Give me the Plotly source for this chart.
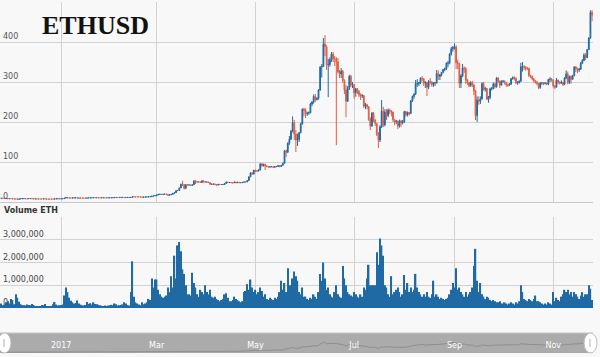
import pandas as pd
import plotly.graph_objects as go

# ---------------- data (daily, 2016-11-25 .. 2017-11-25) ----------------
START_DATE = "2016-11-25"
FIRST_OPEN = 9.3

close = [
    9.4, 9.2, 8.9, 8.6, 8.2, 8.6,  # Nov 2016
    8.5, 7.7, 7.7, 7.6, 6.8, 7.6, 8.4, 8.4, 8.5, 8.2, 8.1, 8.6, 8.6, 8.2, 7.8, 7.9, 7.6, 7.6, 7.6, 7.6, 7.9, 7.6, 7.2, 7.2, 7.2, 7.2, 7.2, 7.8, 8.2, 8.3, 8.0,  # Dec
    8.2, 8.4, 9.7, 11.1, 10.2, 10.1, 9.9, 10.3, 10.3, 10.5, 9.8, 9.9, 9.8, 9.8, 9.8, 9.6, 10.2, 10.4, 10.6, 10.6, 11.0, 10.7, 10.8, 10.5, 10.5, 10.6, 10.6, 10.5, 10.5, 10.6, 10.7,  # Jan
    10.8, 10.8, 11.3, 11.3, 11.2, 11.3, 11.4, 11.5, 11.0, 11.4, 11.4, 11.4, 11.4, 13.0, 12.9, 12.9, 12.8, 12.8, 12.7, 12.0, 12.4, 12.6, 12.8, 13.1, 13.1, 14.8, 15.5, 15.7,  # Feb
    17.5, 19.1, 19.3, 18.7, 19.5, 19.8, 19.4, 16.9, 17.9, 19.2, 21.5, 23.4, 28.6, 28.7, 35.2, 44.6, 44.1, 34.0, 43.3, 42.6, 42.7, 41.6, 43.0, 53.0, 50.5, 50.4, 50.4, 48.8, 53.0, 51.0, 49.8,  # Mar
    50.0, 48.6, 44.2, 44.6, 45.2, 43.3, 42.3, 44.2, 43.6, 43.7, 43.7, 46.4, 50.0, 48.6, 48.8, 48.0, 47.9, 50.0, 48.0, 49.4, 48.2, 48.4, 49.0, 50.3, 50.0, 53.8, 63.0, 72.9, 69.7, 79.8,  # Apr
    77.5, 77.5, 80.3, 95.0, 90.7, 94.6, 90.6, 88.4, 87.4, 88.0, 88.5, 86.7, 88.2, 88.9, 91.1, 88.5, 92.0, 97.0, 128.0, 124.3, 147.0, 157.0, 177.0, 198.0, 170.0, 155.0, 156.0, 173.0, 195.0, 232.0, 229.0,  # May
    221, 222, 223, 245, 250, 264, 256, 259, 280, 337, 339, 395, 388, 343, 344, 356, 370, 358, 358, 350, 325, 320, 327, 304, 280, 252, 283, 314, 292, 293,  # Jun
    273, 283, 276, 268, 265, 266, 240, 243, 238, 206, 190, 222, 205, 196, 169, 155, 188, 227, 193, 225, 216, 230, 227, 225, 206, 201, 202, 190, 203, 198, 201,  # Jul
    226, 218, 224, 221, 253, 264, 269, 296, 296, 298, 309, 308, 297, 299, 287, 301, 300, 294, 298, 298, 321, 314, 318, 324, 331, 333, 347, 347, 370, 383, 387,  # Aug
    388, 348, 347, 297, 315, 335, 333, 305, 298, 291, 298, 292, 277, 216, 255, 252, 258, 296, 282, 284, 257, 262, 283, 283, 295, 288, 310, 302, 292, 302,  # Sep
    302, 298, 292, 292, 295, 308, 311, 309, 298, 299, 302, 338, 339, 336, 334, 334, 316, 314, 308, 303, 300, 296, 286, 297, 297, 296, 297, 295, 306, 307, 305,  # Oct
    290, 287, 305, 300, 297, 299, 294, 310, 320, 299, 314, 307, 316, 337, 333, 330, 332, 347, 354, 367, 361, 381, 410, 474, 467,  # Nov
]

high = [
    9.6, 9.5, 9.3, 9.0, 8.7, 8.8,
    8.8, 8.6, 7.9, 7.8, 7.7, 7.8, 8.6, 8.7, 8.7, 8.6, 8.3, 8.8, 8.9, 8.7, 8.3, 8.0, 8.0, 7.7, 7.7, 7.8, 8.0, 8.0, 7.7, 7.3, 7.3, 7.4, 7.3, 7.9, 8.4, 8.5, 8.4,
    8.4, 8.5, 9.8, 11.3, 11.2, 10.6, 10.3, 10.6, 10.6, 10.7, 10.6, 10.2, 10.0, 9.9, 9.9, 9.9, 10.3, 10.5, 10.8, 10.7, 11.1, 11.1, 11.0, 10.9, 10.6, 10.7, 10.7, 10.7, 10.6, 10.7, 10.8,
    10.9, 10.9, 11.4, 11.6, 11.4, 11.4, 11.5, 11.7, 11.6, 11.5, 11.6, 11.5, 11.6, 13.2, 13.2, 13.0, 13.0, 12.9, 12.9, 12.8, 12.5, 12.7, 12.9, 13.3, 13.3, 15.0, 15.9, 16.0,
    17.8, 19.3, 20.4, 19.4, 19.6, 20.1, 19.9, 19.5, 18.0, 19.5, 21.8, 24.0, 28.8, 29.5, 35.8, 45.5, 53.0, 44.2, 44.0, 43.5, 43.8, 42.8, 43.5, 53.5, 55.0, 51.5, 51.0, 50.5, 53.5, 53.2, 51.0,
    51.0, 50.5, 48.8, 45.6, 45.5, 45.5, 43.5, 44.5, 44.3, 44.0, 44.0, 46.5, 50.5, 50.5, 49.2, 49.0, 48.2, 50.3, 50.5, 49.6, 49.6, 48.8, 49.2, 50.5, 50.6, 54.0, 64.0, 73.5, 74.0, 80.0,
    80.5, 79.5, 81.0, 97.0, 97.5, 95.5, 95.0, 91.0, 88.5, 89.5, 89.5, 88.5, 88.8, 89.5, 91.5, 91.5, 92.5, 98.0, 130.0, 131.0, 149.0, 165.0, 180.0, 214.0, 205.0, 180.0, 171.0, 175.0, 198.0, 234.0, 236.0,
    234, 226, 226, 248, 252, 269, 270, 262, 282, 340, 345, 410, 417, 392, 358, 362, 375, 375, 365, 362, 360, 330, 335, 330, 307, 292, 290, 318, 318, 300,
    295, 285, 285, 280, 272, 270, 267, 248, 245, 240, 212, 225, 225, 207, 198, 175, 192, 255, 238, 232, 232, 234, 233, 230, 226, 208, 205, 204, 206, 204, 205,
    228, 227, 226, 225, 255, 266, 272, 305, 307, 300, 312, 315, 310, 302, 300, 305, 310, 302, 300, 300, 330, 329, 320, 325, 333, 336, 349, 353, 372, 388, 390,
    397, 392, 356, 348, 320, 345, 339, 337, 308, 300, 302, 303, 296, 280, 264, 264, 264, 299, 300, 288, 285, 265, 286, 288, 299, 298, 312, 312, 304, 304,
    305, 304, 300, 296, 297, 310, 314, 314, 312, 302, 304, 348, 350, 342, 340, 338, 336, 318, 316, 310, 305, 302, 298, 300, 300, 300, 300, 299, 308, 312, 310,
    307, 292, 310, 306, 302, 304, 300, 312, 329, 326, 316, 316, 318, 340, 340, 336, 335, 350, 357, 372, 372, 382, 412, 479, 480,
]

low = [
    9.1, 9.0, 8.6, 8.2, 7.9, 8.1,
    8.3, 7.5, 7.4, 7.4, 6.4, 6.7, 7.5, 8.1, 8.2, 8.1, 7.9, 8.0, 8.4, 8.1, 7.6, 7.6, 7.5, 7.5, 7.5, 7.5, 7.5, 7.5, 7.0, 7.0, 7.1, 7.1, 7.1, 7.1, 7.7, 8.0, 7.9,
    7.9, 8.1, 8.3, 9.6, 9.6, 9.8, 9.6, 9.8, 10.1, 10.2, 9.6, 9.6, 9.6, 9.6, 9.6, 9.5, 9.6, 10.1, 10.3, 10.4, 10.5, 10.6, 10.6, 10.4, 10.4, 10.4, 10.5, 10.4, 10.4, 10.4, 10.5,
    10.6, 10.6, 10.7, 11.1, 11.0, 11.1, 11.2, 11.3, 10.7, 10.9, 11.3, 11.2, 11.2, 11.3, 12.6, 12.7, 12.6, 12.6, 12.5, 11.8, 11.9, 12.3, 12.5, 12.7, 12.9, 13.0, 14.5, 15.2,
    15.6, 17.4, 18.7, 18.3, 18.6, 19.3, 18.8, 16.6, 16.3, 17.8, 19.1, 21.3, 23.3, 27.8, 28.5, 35.0, 40.0, 31.0, 33.5, 41.0, 41.5, 40.0, 41.3, 43.0, 45.0, 48.0, 48.5, 47.5, 48.6, 48.5, 49.0,
    49.2, 47.5, 43.5, 43.5, 44.2, 42.5, 41.5, 42.0, 43.2, 43.3, 43.2, 43.5, 46.2, 47.5, 48.0, 47.5, 47.2, 47.7, 47.8, 47.8, 48.0, 47.8, 48.2, 48.8, 49.5, 49.8, 53.5, 62.5, 68.0, 69.5,
    75.0, 75.0, 76.5, 79.5, 88.0, 89.0, 80.0, 87.0, 86.0, 86.5, 87.5, 86.0, 86.3, 87.5, 88.0, 87.0, 88.0, 91.5, 96.5, 112.0, 123.0, 143.0, 155.0, 174.0, 155.0, 125.0, 140.0, 150.0, 172.0, 194.0, 214.0,
    210, 215, 218, 222, 240, 246, 250, 254, 256, 278, 311, 338, 365, 330, 262, 338, 350, 350, 340, 142, 322, 310, 310, 298, 270, 212, 250, 280, 287, 285,
    258, 263, 270, 262, 255, 260, 235, 232, 232, 203, 180, 188, 200, 190, 165, 135, 150, 185, 187, 189, 205, 212, 220, 214, 200, 192, 195, 182, 186, 188, 194,
    198, 213, 214, 216, 221, 250, 258, 268, 288, 290, 295, 302, 290, 285, 265, 282, 294, 288, 288, 290, 296, 305, 305, 314, 322, 327, 330, 337, 344, 366, 376,
    381, 332, 332, 285, 285, 312, 323, 295, 293, 287, 288, 287, 267, 205, 200, 243, 245, 256, 278, 276, 255, 248, 257, 279, 282, 284, 286, 297, 285, 292,
    298, 294, 288, 288, 290, 293, 306, 304, 295, 293, 296, 300, 326, 330, 328, 330, 312, 310, 304, 298, 296, 292, 282, 283, 293, 292, 294, 292, 292, 300, 301,
    286, 282, 286, 295, 294, 295, 290, 292, 307, 294, 295, 296, 305, 314, 325, 322, 325, 330, 345, 352, 355, 360, 380, 408, 452,
]

# volume in thousands of ETH
volume_k = [
    200, 120, 150, 250, 300, 200,
    400, 350, 160, 600, 450, 280, 170, 130, 120, 110, 150, 130, 120, 180, 130, 90, 80, 70, 90, 130, 120, 180, 90, 70, 80, 90, 170, 260, 150, 110, 120,
    130, 150, 550, 900, 700, 450, 320, 250, 200, 220, 330, 200, 150, 120, 110, 130, 260, 180, 210, 150, 250, 180, 170, 140, 120, 100, 90, 110, 80, 110, 120,
    140, 120, 200, 160, 110, 120, 130, 160, 250, 200, 130, 110, 700, 2050, 500, 250, 200, 150, 120, 250, 170, 200, 250, 400, 350, 1300, 900, 1250,
    1250, 800, 600, 500, 450, 500, 550, 900, 700, 1400, 900, 2300, 1300, 2750, 2900, 2500, 1700, 1500, 1000, 600, 600, 550, 1550, 1100, 900, 600, 500, 800, 700, 600, 1000,
    700, 600, 800, 500, 450, 500, 400, 350, 300, 350, 400, 600, 650, 450, 300, 300, 350, 500, 400, 350, 300, 250, 300, 700, 750, 1050, 800, 1250, 900, 700,
    800, 600, 700, 900, 750, 500, 600, 400, 350, 450, 400, 350, 450, 400, 500, 700, 1200, 800, 1100, 700, 1750, 1000, 1000, 1300, 1600, 1400, 1200, 700, 600, 900, 500,
    500, 400, 350, 450, 400, 600, 500, 400, 700, 1500, 1200, 2000, 1300, 800, 900, 600, 500, 450, 700, 1000, 600, 500, 450, 1850, 1300, 1000, 700, 600, 550, 500,
    700, 600, 500, 450, 600, 500, 900, 800, 1300, 1900, 1000, 1000, 1000, 1000, 2450, 1900, 3050, 2750, 2300, 1000, 900, 600, 500, 1400, 600, 700, 800, 900, 700, 500, 600,
    1450, 800, 1100, 700, 900, 700, 800, 1500, 900, 700, 600, 500, 600, 500, 700, 500, 450, 600, 1200, 500, 600, 500, 400, 450, 400, 350, 400, 450, 600, 800, 1100,
    900, 1750, 800, 900, 700, 600, 500, 700, 500, 600, 700, 900, 1850, 2600, 1200, 700, 1100, 600, 500, 400, 500, 450, 350, 300, 350, 300, 250, 250, 300, 200,
    200, 250, 200, 150, 200, 250, 200, 150, 250, 200, 300, 1000, 700, 400, 350, 300, 400, 350, 300, 400, 550, 300, 300, 250, 200, 150, 200, 150, 250, 200, 150,
    700, 300, 450, 350, 300, 500, 600, 800, 700, 800, 600, 700, 500, 700, 600, 500, 400, 550, 700, 500, 600, 600, 1000, 850, 350,
]

month_ticks = ["2017-01-01", "2017-03-01", "2017-05-01", "2017-07-01", "2017-09-01", "2017-11-01"]
month_labels = ["2017", "Mar", "May", "Jul", "Sep", "Nov"]
price_ticks = [0, 100, 200, 300, 400, 500]
price_labels = ["0", "100", "200", "300", "400", ""]
vol_ticks = [0, 1000, 2000, 3000, 4000]
vol_labels = ["0", "1,000,000", "2,000,000", "3,000,000", ""]

# ---------------- figure ----------------
n = min(len(close), len(high), len(low), len(volume_k))
dates = pd.date_range(START_DATE, periods=n, freq="D")
opens = [FIRST_OPEN] + close[: n - 1]

UP = "#1f6aa5"
DOWN = "#e35d40"
GRID = "#d2d2d2"
BG = "#f8f8f8"
X_RANGE = ["2016-11-24 05:00", "2017-11-25 14:00"]

fig = go.Figure()
fig.add_trace(go.Candlestick(
    x=dates, open=opens, high=high[:n], low=low[:n], close=close[:n],
    xaxis="x", yaxis="y", whiskerwidth=0,
    increasing=dict(line=dict(color=UP, width=1), fillcolor=UP),
    decreasing=dict(line=dict(color=DOWN, width=1), fillcolor=DOWN),
    showlegend=False,
))
fig.add_trace(go.Bar(
    x=dates, y=volume_k[:n], xaxis="x2", yaxis="y2",
    marker=dict(color=UP, line=dict(width=0)), showlegend=False,
))
fig.add_trace(go.Scatter(
    x=dates, y=close[:n], xaxis="x3", yaxis="y3", mode="lines",
    line=dict(color="#8e8e8e", width=1), showlegend=False, hoverinfo="skip",
))

W, H = 600, 357
ML, MR, MT, MB = 0, 7, 2, 4
PW = W - ML - MR
PH = H - MT - MB


def py(pix):
    return (H - MB - pix) / PH


def px(pix):
    return (pix - ML) / PW


axis_font = dict(family="DejaVu Sans", size=8, color="#555555")

fig.update_layout(
    width=W, height=H,
    margin=dict(l=ML, r=MR, t=MT, b=MB),
    paper_bgcolor=BG, plot_bgcolor=BG,
    showlegend=False, bargap=0.12,
    xaxis=dict(domain=[0, 1], anchor="y", range=X_RANGE, type="date",
               tickvals=month_ticks, showticklabels=False, ticks="",
               showgrid=True, gridcolor=GRID, gridwidth=1, zeroline=False,
               showline=True, linecolor="#c8c8c8", rangeslider=dict(visible=False)),
    yaxis=dict(domain=[py(202), py(2)], anchor="x", range=[0, 500],
               tickvals=price_ticks, ticktext=price_labels, ticklabelposition="inside top",
               tickfont=axis_font, showgrid=True, gridcolor=GRID, zeroline=False,
               ticks=""),
    xaxis2=dict(domain=[0, 1], anchor="y2", matches="x", type="date",
                tickvals=month_ticks, showticklabels=False, ticks="",
                showgrid=True, gridcolor=GRID, zeroline=False, showline=False),
    yaxis2=dict(domain=[py(308), py(217)], anchor="x2", range=[0, 4000],
                tickvals=vol_ticks, ticktext=vol_labels, ticklabelposition="inside top",
                tickfont=dict(family="DejaVu Sans", size=8, color="#444444"),
                showgrid=True, gridcolor=GRID, zeroline=False, ticks=""),
    xaxis3=dict(domain=[0, 1], anchor="y3", matches="x", type="date",
                tickvals=month_ticks, ticktext=month_labels, ticklabelposition="inside",
                tickfont=dict(family="DejaVu Sans", size=8, color="#ffffff"),
                showgrid=False, zeroline=False, showline=False, ticks=""),
    yaxis3=dict(domain=[py(353), py(333)], anchor="x3", range=[-20, 760],
                showticklabels=False, showgrid=False, zeroline=False, ticks=""),
)

shapes = [
    dict(type="rect", xref="x3 domain", yref="y3 domain", x0=0, x1=1, y0=0, y1=1,
         fillcolor="#ababab", line=dict(width=0), layer="below"),
    dict(type="line", xref="x3 domain", yref="y3 domain", x0=0, x1=1, y0=1, y1=1,
         line=dict(color="#c6c6c6", width=1)),
    # navigator handles
    dict(type="circle", xref="paper", yref="paper", x0=px(-2), x1=px(11), y0=py(353), y1=py(333),
         fillcolor="#ffffff", line=dict(color="#bdbdbd", width=1)),
    dict(type="line", xref="paper", yref="paper", x0=px(4), x1=px(4), y0=py(347), y1=py(339),
         line=dict(color="#b0b0b0", width=1)),
    dict(type="circle", xref="paper", yref="paper", x0=px(584), x1=px(597), y0=py(353), y1=py(333),
         fillcolor="#ffffff", line=dict(color="#bdbdbd", width=1)),
    dict(type="line", xref="paper", yref="paper", x0=px(590), x1=px(590), y0=py(347), y1=py(339),
         line=dict(color="#b0b0b0", width=1)),
]
fig.update_layout(shapes=shapes)

fig.add_annotation(text="ETHUSD", xref="paper", yref="paper", x=px(95), y=py(26),
                   xanchor="center", yanchor="middle", showarrow=False,
                   font=dict(family="Liberation Serif", size=26, color="#111111", weight="bold"))
fig.add_annotation(text="Volume ETH", xref="paper", yref="paper", x=px(2), y=py(210),
                   xanchor="left", yanchor="middle", showarrow=False,
                   font=dict(family="DejaVu Sans", size=8, color="#333333", weight="bold"))

fig.write_html(
    "out.html",
    config={"displayModeBar": False},
    post_script="document.body.style.margin='0';document.body.style.padding='0';"
                "document.body.style.background='" + BG + "';",
)
